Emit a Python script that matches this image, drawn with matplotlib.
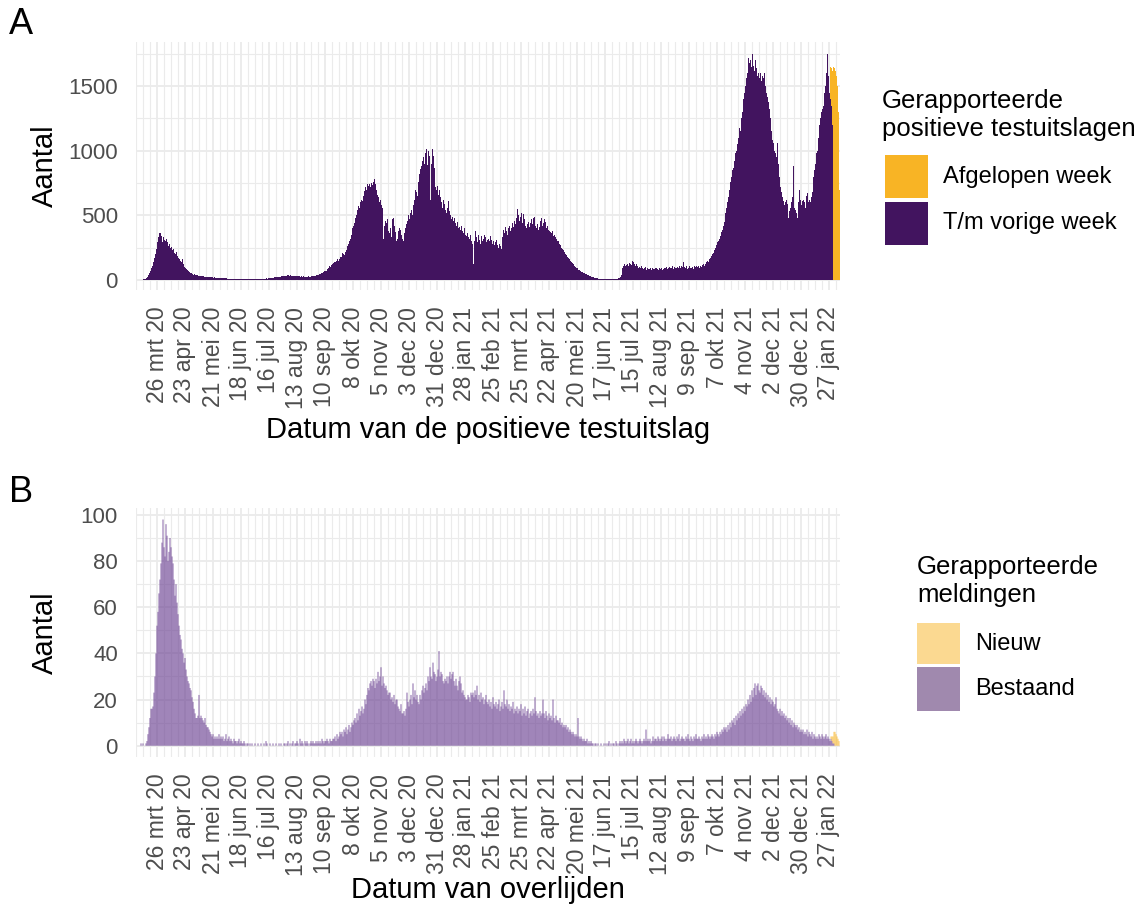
import numpy as np
import pandas as pd
import matplotlib
matplotlib.use("Agg")
import matplotlib.pyplot as plt
import matplotlib.dates as mdates
from matplotlib.patches import Rectangle

plt.rcParams['font.family'] = ['Liberation Sans', 'DejaVu Sans']

# ---------------- data ----------------
start_date = "2020-03-07"

# Panel A: positive test results per day (reported up to previous week)
pos_tm_vorige_week = (
    [0, 1, 1, 2, 3, 5, 8] +
    [10, 15, 20, 35, 50, 70, 90] +
    [110, 140, 170, 200, 240, 290, 330] +
    [365, 360, 340, 290, 330, 310, 300] +
    [315, 290, 260, 275, 245, 255, 230] +
    [240, 210, 200, 215, 185, 170, 160] +
    [150, 135, 165, 120, 100, 90, 85] +
    [80, 70, 65, 55, 50, 48, 40] +
    [42, 38, 35, 36, 30, 32, 28] +
    [30, 27, 28, 25, 26, 24, 22] +
    [24, 22, 20, 21, 19, 18, 20] +
    [18, 16, 17, 15, 16, 14, 15] +
    [14, 13, 12, 14, 12, 11, 10] +
    [10, 11, 9, 8, 9, 8, 7] +
    [7, 8, 6, 7, 6, 5, 6] +
    [5, 6, 5, 4, 5, 6, 5] +
    [5, 4, 5, 6, 5, 4, 6] +
    [6, 7, 6, 8, 7, 9, 8] +
    [9, 10, 12, 11, 13, 12, 14] +
    [15, 17, 16, 19, 20, 22, 21] +
    [24, 26, 25, 28, 30, 27, 32] +
    [34, 30, 36, 38, 33, 35, 31] +
    [33, 30, 29, 32, 28, 30, 27] +
    [28, 26, 27, 25, 28, 26, 24] +
    [26, 25, 27, 24, 26, 28, 27] +
    [30, 28, 32, 35, 38, 40, 45] +
    [48, 55, 52, 60, 66, 72, 70] +
    [85, 95, 105, 100, 115, 125, 130] +
    [140, 135, 150, 160, 145, 165, 175] +
    [180, 205, 200, 190, 215, 230, 260] +
    [280, 300, 320, 350, 400, 420, 440] +
    [480, 500, 540, 570, 560, 600, 620] +
    [610, 650, 690, 720, 700, 740, 730] +
    [745, 720, 750, 735, 760, 780, 740] +
    [700, 660, 640, 600, 620, 580, 560] +
    [320, 420, 460, 440, 470, 380, 360] +
    [400, 330, 470, 480, 420, 370, 300] +
    [320, 380, 400, 390, 350, 320, 300] +
    [360, 400, 430, 460, 500, 470, 520] +
    [540, 500, 580, 620, 700, 680, 650] +
    [760, 820, 860, 880, 920, 950, 900] +
    [980, 1010, 890, 1000, 960, 620, 900] +
    [1010, 960, 870, 720, 700, 730, 660] +
    [700, 640, 600, 560, 620, 590, 540] +
    [520, 560, 610, 530, 500, 470, 490] +
    [460, 480, 440, 420, 450, 400, 410] +
    [390, 420, 380, 360, 400, 350, 340] +
    [360, 330, 320, 350, 300, 280, 120] +
    [300, 380, 330, 290, 350, 310, 280] +
    [340, 300, 320, 350, 330, 290, 310] +
    [320, 300, 340, 310, 280, 300, 270] +
    [290, 310, 270, 250, 280, 260, 240] +
    [330, 390, 360, 410, 380, 350, 400] +
    [420, 380, 400, 440, 410, 460, 430] +
    [480, 550, 500, 460, 490, 520, 440] +
    [510, 470, 420, 400, 430, 450, 410] +
    [440, 470, 430, 480, 490, 420, 400] +
    [430, 390, 410, 460, 480, 420, 440] +
    [470, 450, 400, 420, 390, 380, 370] +
    [360, 380, 340, 350, 330, 320, 300] +
    [300, 280, 270, 250, 240, 230, 215] +
    [200, 190, 180, 170, 160, 145, 135] +
    [130, 120, 110, 100, 95, 90, 80] +
    [75, 70, 65, 60, 55, 50, 45] +
    [42, 38, 35, 30, 28, 25, 22] +
    [20, 18, 15, 14, 12, 11, 10] +
    [9, 8, 8, 7, 7, 6, 6] +
    [6, 5, 6, 5, 6, 7, 6] +
    [7, 8, 8, 10, 12, 15, 20] +
    [40, 95, 110, 120, 105, 115, 125] +
    [110, 130, 120, 115, 150, 135, 120] +
    [110, 125, 105, 95, 100, 90, 105] +
    [95, 85, 90, 100, 80, 95, 88] +
    [85, 95, 80, 90, 88, 82, 95] +
    [90, 85, 80, 95, 88, 92, 80] +
    [88, 95, 90, 100, 85, 92, 98] +
    [90, 95, 105, 88, 100, 92, 96] +
    [100, 90, 105, 95, 110, 98, 140] +
    [100, 92, 105, 85, 95, 110, 90] +
    [95, 100, 88, 105, 98, 110, 100] +
    [105, 95, 110, 100, 115, 120, 110] +
    [120, 140, 150, 135, 160, 170, 185] +
    [200, 210, 230, 250, 270, 290, 300] +
    [320, 340, 370, 390, 420, 450, 520] +
    [560, 600, 640, 700, 760, 800, 850] +
    [870, 920, 980, 1000, 1050, 1100, 1180] +
    [1150, 1250, 1300, 1400, 1450, 1500, 1560] +
    [1600, 1720, 1680, 1700, 1650, 1750, 1660] +
    [1620, 1700, 1640, 1580, 1600, 1560, 1600] +
    [1540, 1580, 1560, 1600, 1500, 1450, 1420] +
    [1380, 1320, 1250, 1150, 1080, 1060, 1000] +
    [980, 950, 1060, 900, 800, 720, 680] +
    [640, 610, 580, 600, 620, 590, 480] +
    [530, 560, 600, 640, 880, 560, 540] +
    [520, 480, 600, 700, 620, 580, 610] +
    [620, 600, 560, 650, 670, 600, 620] +
    [600, 640, 680, 800, 850, 900, 980] +
    [1000, 1100, 1200, 1250, 1300, 1320, 1350] +
    [1450, 1500, 1600, 1750, 1580, 1450, 1400] +
    [1350, 1200, 0, 0, 0, 0, 0] +
    [0, 0]
)
pos_afgelopen_week_start = "2022-01-28"
pos_afgelopen_week = [250, 290, 420, 1650, 1640, 1620, 1580, 1500, 1300, 700]

# Panel B: deaths per day (existing reports)
overl_bestaand = (
    [0, 0, 0, 1, 0, 1, 0] +
    [0, 1, 2, 5, 8, 12, 16] +
    [16, 17, 23, 30, 40, 52, 58] +
    [66, 72, 79, 88, 98, 86, 82] +
    [96, 91, 80, 84, 90, 86, 82] +
    [79, 72, 65, 70, 62, 57, 52] +
    [48, 46, 42, 40, 36, 38, 33] +
    [30, 28, 27, 25, 24, 21, 19] +
    [16, 14, 12, 12, 13, 22, 12] +
    [13, 12, 11, 10, 12, 9, 8] +
    [8, 7, 6, 5, 4, 5, 3] +
    [4, 3, 4, 3, 5, 3, 4] +
    [3, 4, 2, 3, 5, 2, 3] +
    [4, 2, 3, 2, 1, 3, 2] +
    [2, 1, 2, 3, 1, 2, 1] +
    [1, 2, 1, 0, 1, 1, 0] +
    [1, 0, 1, 0, 0, 1, 0] +
    [0, 1, 0, 0, 1, 0, 0] +
    [1, 0, 2, 1, 0, 0, 1] +
    [0, 0, 1, 0, 0, 1, 0] +
    [0, 1, 0, 1, 0, 0, 1] +
    [1, 0, 1, 2, 0, 1, 0] +
    [1, 2, 0, 1, 1, 2, 1] +
    [0, 3, 1, 2, 1, 0, 2] +
    [1, 2, 1, 0, 1, 2, 1] +
    [2, 1, 1, 2, 1, 2, 1] +
    [2, 1, 3, 2, 1, 2, 2] +
    [3, 2, 1, 3, 2, 2, 3] +
    [3, 4, 2, 5, 3, 4, 6] +
    [5, 6, 4, 7, 6, 8, 5] +
    [7, 9, 6, 8, 10, 9, 11] +
    [12, 10, 14, 11, 16, 13, 15] +
    [17, 14, 16, 20, 18, 22, 25] +
    [24, 27, 28, 26, 29, 28, 25] +
    [29, 27, 32, 28, 30, 34, 26] +
    [30, 27, 25, 26, 24, 22, 23] +
    [23, 20, 21, 19, 22, 18, 20] +
    [20, 17, 16, 15, 18, 14, 14] +
    [15, 13, 16, 23, 19, 17, 20] +
    [22, 18, 27, 21, 24, 20, 22] +
    [19, 18, 22, 20, 24, 26, 23] +
    [25, 27, 24, 30, 28, 34, 30] +
    [29, 36, 32, 31, 28, 30, 33] +
    [41, 30, 32, 31, 28, 27, 29] +
    [28, 30, 27, 30, 32, 29, 31] +
    [32, 28, 26, 29, 26, 24, 28] +
    [30, 27, 23, 24, 22, 21, 20] +
    [20, 22, 21, 19, 23, 22, 23] +
    [21, 24, 22, 26, 20, 22, 19] +
    [23, 20, 21, 18, 20, 22, 19] +
    [18, 20, 17, 19, 16, 21, 18] +
    [17, 19, 16, 18, 20, 15, 17] +
    [19, 16, 24, 18, 17, 20, 16] +
    [18, 15, 17, 16, 19, 14, 16] +
    [15, 17, 14, 16, 15, 18, 13] +
    [16, 14, 17, 13, 15, 16, 12] +
    [14, 15, 13, 16, 14, 21, 15] +
    [13, 14, 12, 15, 13, 14, 20] +
    [14, 12, 15, 13, 11, 14, 12] +
    [13, 11, 20, 12, 10, 13, 11] +
    [11, 10, 12, 9, 10, 8, 9] +
    [8, 9, 7, 8, 6, 7, 6] +
    [5, 6, 5, 4, 5, 4, 12] +
    [4, 3, 4, 3, 2, 3, 2] +
    [2, 3, 1, 2, 1, 2, 1] +
    [1, 0, 1, 1, 0, 1, 0] +
    [0, 1, 0, 0, 1, 0, 1] +
    [0, 1, 2, 0, 1, 0, 1] +
    [1, 0, 2, 1, 0, 1, 2] +
    [1, 2, 1, 3, 2, 1, 2] +
    [3, 1, 2, 3, 1, 2, 1] +
    [2, 3, 2, 1, 2, 3, 2] +
    [1, 2, 3, 2, 7, 2, 3] +
    [2, 3, 1, 2, 4, 2, 3] +
    [3, 2, 4, 3, 2, 3, 4] +
    [2, 4, 3, 2, 3, 5, 3] +
    [3, 4, 2, 3, 4, 3, 2] +
    [4, 3, 5, 2, 3, 4, 3] +
    [3, 2, 4, 3, 5, 3, 2] +
    [4, 3, 2, 4, 3, 5, 3] +
    [3, 4, 3, 2, 4, 3, 5] +
    [3, 4, 3, 5, 4, 3, 4] +
    [5, 4, 3, 5, 4, 6, 5] +
    [4, 6, 5, 7, 6, 8, 7] +
    [8, 6, 9, 7, 10, 8, 11] +
    [10, 12, 9, 13, 11, 14, 12] +
    [15, 13, 16, 14, 17, 15, 18] +
    [17, 20, 18, 22, 19, 24, 21] +
    [25, 27, 22, 26, 27, 24, 23] +
    [26, 25, 22, 24, 21, 23, 20] +
    [22, 19, 21, 18, 20, 19, 17] +
    [18, 21, 16, 15, 14, 16, 13] +
    [15, 13, 14, 12, 13, 11, 12] +
    [10, 12, 9, 11, 8, 10, 9] +
    [8, 9, 7, 8, 6, 7, 6] +
    [7, 5, 6, 5, 7, 4, 6] +
    [5, 4, 6, 3, 5, 4, 3] +
    [4, 3, 5, 4, 3, 5, 4] +
    [3, 4, 5, 3, 4, 3, 2] +
    [3, 2, 1, 1, 0, 0, 0] +
    [0, 0]
)
overl_nieuw_start = "2022-01-28"
overl_nieuw = [0, 1, 2, 3, 5, 6, 5, 4, 3, 2]

tick_start = "2020-03-26"
tick_labels = ["26 mrt 20", "23 apr 20", "21 mei 20", "18 jun 20", "16 jul 20",
               "13 aug 20", "10 sep 20", "8 okt 20", "5 nov 20", "3 dec 20",
               "31 dec 20", "28 jan 21", "25 feb 21", "25 mrt 21", "22 apr 21",
               "20 mei 21", "17 jun 21", "15 jul 21", "12 aug 21", "9 sep 21",
               "7 okt 21", "4 nov 21", "2 dec 21", "30 dec 21", "27 jan 22"]

yticksA = [0, 500, 1000, 1500]
yticksB = [0, 20, 40, 60, 80, 100]

# ---------------- style ----------------
PURPLE = "#42145F"
YELLOW = "#F8B425"
PURPLE_B = "#6E4494"
GRID = "#EBEBEB"
TICKC = "#4D4D4D"

W, H = 1145, 908
fig = plt.figure(figsize=(W / 100, H / 100), dpi=100)


def fx(x):
    return x / W


def fy(y):
    return 1 - y / H


def day_nums(start, n):
    d = pd.to_datetime(start) + pd.to_timedelta(np.arange(n), unit="D")
    return mdates.date2num(d.to_pydatetime())


t0 = mdates.date2num(pd.to_datetime(start_date).to_pydatetime())
xlim = (t0 - 2, t0 + 702)
tick0 = mdates.date2num(pd.to_datetime(tick_start).to_pydatetime())
tick_nums = tick0 + 28 * np.arange(len(tick_labels))
minor_nums = np.arange(tick0 - 21, xlim[1], 7)


def style(ax, ylim, yticks):
    ax.set_xlim(*xlim)
    ax.set_ylim(*ylim)
    for s in ax.spines.values():
        s.set_visible(False)
    ax.set_xticks(tick_nums)
    ax.set_xticklabels(tick_labels, rotation=90, ha="center", va="top")
    ax.set_xticks(minor_nums, minor=True)
    ax.set_yticks(yticks)
    ax.set_yticklabels([str(v) for v in yticks])
    step = yticks[1] - yticks[0]
    ax.set_yticks(np.arange(yticks[0] + step / 2, ylim[1], step), minor=True)
    ax.tick_params(which="both", length=0)
    ax.tick_params(axis="x", pad=12, labelsize=16.5, labelcolor=TICKC)
    ax.tick_params(axis="y", pad=13, labelsize=16, labelcolor=TICKC)
    ax.grid(which="major", color=GRID, lw=1.3)
    ax.grid(which="minor", color=GRID, lw=0.8)
    ax.set_axisbelow(True)


# Panel A
axA = fig.add_axes([fx(136), fy(290), (840 - 136) / W, (290 - 42) / H])
xa = day_nums(start_date, len(pos_tm_vorige_week))
axA.bar(xa, pos_tm_vorige_week, width=1.0, color=PURPLE, linewidth=0, zorder=2)
xa2 = day_nums(pos_afgelopen_week_start, len(pos_afgelopen_week))
idxA = np.rint(xa2 - xa[0]).astype(int)
baseA = np.array([pos_tm_vorige_week[i] if 0 <= i < len(xa) else 0 for i in idxA])
axA.bar(xa2, pos_afgelopen_week, bottom=baseA, width=1.0, color=YELLOW, linewidth=0, zorder=2)
style(axA, (-78, 1842), yticksA)

# Panel B
axB = fig.add_axes([fx(136), fy(757), (840 - 136) / W, (757 - 508) / H])
xb = day_nums(start_date, len(overl_bestaand))
axB.bar(xb, overl_bestaand, width=0.9, color=PURPLE_B, alpha=0.9, linewidth=0,
        zorder=2, snap=False)
xb2 = day_nums(overl_nieuw_start, len(overl_nieuw))
idxB = np.rint(xb2 - xb[0]).astype(int)
baseB = np.array([overl_bestaand[i] if 0 <= i < len(xb) else 0 for i in idxB])
axB.bar(xb2, overl_nieuw, bottom=baseB, width=0.9, color=YELLOW, alpha=0.8,
        linewidth=0, zorder=2, snap=False)
style(axB, (-4.9, 103), yticksB)

# Titles / axis labels
fig.text(fx(9), fy(24), "A", fontsize=26, ha="left", va="center")
fig.text(fx(9), fy(492), "B", fontsize=26, ha="left", va="center")
fig.text(fx(45), fy(166), "Aantal", fontsize=21, rotation=90, ha="center", va="center")
fig.text(fx(45), fy(633), "Aantal", fontsize=21, rotation=90, ha="center", va="center")
fig.text(fx(488), fy(430), "Datum van de positieve testuitslag", fontsize=21, ha="center", va="center")
fig.text(fx(488), fy(890), "Datum van overlijden", fontsize=21, ha="center", va="center")


# Legends
def legend(x_title, y_lines, title_lines, box_x, boxes, label_x, labels, colors, alpha):
    for yy, t in zip(y_lines, title_lines):
        fig.text(fx(x_title), fy(yy), t, fontsize=18.5, ha="left", va="center")
    for (y0, y1), lab, c in zip(boxes, labels, colors):
        fig.add_artist(Rectangle((fx(box_x[0]), fy(y1)), (box_x[1] - box_x[0]) / W, (y1 - y0) / H,
                                 transform=fig.transFigure, facecolor=c, alpha=alpha, linewidth=0))
        fig.text(fx(label_x), fy((y0 + y1) / 2), lab, fontsize=17, ha="left", va="center")


legend(882, [101, 129], ["Gerapporteerde", "positieve testuitslagen"],
       (885, 928), [(155, 198), (202, 245)], 943,
       ["Afgelopen week", "T/m vorige week"], [YELLOW, PURPLE], 1.0)
legend(917, [567, 595], ["Gerapporteerde", "meldingen"],
       (917, 960), [(623, 664), (667, 711)], 975,
       ["Nieuw", "Bestaand"], [YELLOW, PURPLE], 0.5)

fig.savefig("out.png", dpi=100)
